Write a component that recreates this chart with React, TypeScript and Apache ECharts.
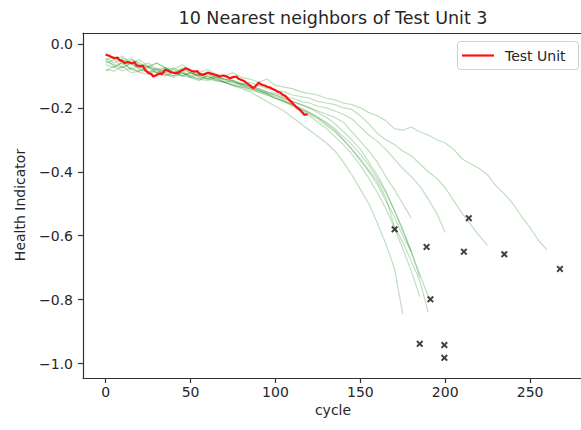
import React, { useEffect, useRef } from "react";
import * as echarts from "echarts";

const STEP = 5;

const testUnitCycles = [0, 2, 3, 5, 7, 8, 10, 11, 13, 15, 17, 18, 20, 22, 23, 25, 27, 28, 30, 32, 33, 35, 37, 38, 41, 43, 44, 46, 47, 49, 50, 52, 54, 55, 57, 59, 60, 62, 64, 65, 67, 69, 70, 72, 73, 75, 77, 78, 80, 82, 83, 85, 87, 89, 90, 92, 94, 95, 97, 98, 100, 101, 103, 104, 106, 107, 109, 110, 112, 114, 115, 117, 119];
const testUnitHI = [-0.034, -0.037, -0.04, -0.045, -0.043, -0.05, -0.054, -0.06, -0.057, -0.06, -0.058, -0.066, -0.071, -0.069, -0.081, -0.09, -0.095, -0.102, -0.097, -0.092, -0.095, -0.081, -0.085, -0.088, -0.092, -0.089, -0.085, -0.08, -0.076, -0.08, -0.083, -0.087, -0.085, -0.093, -0.097, -0.093, -0.09, -0.093, -0.096, -0.097, -0.102, -0.099, -0.1, -0.104, -0.108, -0.104, -0.102, -0.108, -0.113, -0.118, -0.123, -0.13, -0.139, -0.128, -0.121, -0.128, -0.131, -0.134, -0.137, -0.14, -0.145, -0.149, -0.153, -0.158, -0.164, -0.17, -0.18, -0.185, -0.196, -0.205, -0.21, -0.222, -0.22];

const neighborA = [-0.03, -0.045, -0.04, -0.06, -0.05, -0.07, -0.06, -0.075, -0.08, -0.065, -0.085, -0.09, -0.08, -0.095, -0.1, -0.09, -0.105, -0.11, -0.12, -0.11, -0.13, -0.135, -0.14, -0.15, -0.155, -0.16, -0.17, -0.175, -0.185, -0.19, -0.2, -0.215, -0.225, -0.24, -0.265, -0.27, -0.26, -0.275, -0.285, -0.3, -0.31, -0.33, -0.36, -0.375, -0.39, -0.41, -0.445, -0.47, -0.5, -0.54, -0.575, -0.615, -0.645];
const neighborB = [-0.06, -0.05, -0.075, -0.06, -0.08, -0.07, -0.085, -0.09, -0.08, -0.1, -0.09, -0.1, -0.11, -0.1, -0.11, -0.115, -0.125, -0.12, -0.13, -0.14, -0.145, -0.15, -0.16, -0.165, -0.17, -0.18, -0.185, -0.19, -0.2, -0.205, -0.225, -0.25, -0.28, -0.3, -0.315, -0.335, -0.35, -0.375, -0.4, -0.42, -0.45, -0.49, -0.53, -0.565, -0.6, -0.63];
const neighborC = [-0.05, -0.07, -0.06, -0.08, -0.065, -0.085, -0.09, -0.075, -0.09, -0.1, -0.09, -0.105, -0.11, -0.1, -0.115, -0.12, -0.125, -0.135, -0.14, -0.15, -0.155, -0.165, -0.17, -0.18, -0.185, -0.195, -0.2, -0.21, -0.22, -0.235, -0.26, -0.285, -0.305, -0.33, -0.36, -0.39, -0.415, -0.445, -0.485, -0.53, -0.59];
const neighborD = [-0.08, -0.085, -0.07, -0.09, -0.085, -0.075, -0.09, -0.1, -0.09, -0.1, -0.105, -0.095, -0.11, -0.115, -0.12, -0.125, -0.13, -0.14, -0.145, -0.155, -0.16, -0.17, -0.18, -0.19, -0.2, -0.21, -0.22, -0.23, -0.245, -0.275, -0.305, -0.335, -0.37, -0.415, -0.455, -0.5, -0.545];
const neighborE = [-0.035, -0.045, -0.055, -0.045, -0.065, -0.07, -0.08, -0.085, -0.075, -0.09, -0.1, -0.09, -0.105, -0.11, -0.12, -0.13, -0.14, -0.15, -0.165, -0.18, -0.195, -0.21, -0.23, -0.25, -0.27, -0.29, -0.31, -0.335, -0.37, -0.41, -0.455, -0.5, -0.56, -0.625, -0.7, -0.845];
const neighborF = [-0.055, -0.065, -0.075, -0.06, -0.08, -0.09, -0.075, -0.09, -0.1, -0.085, -0.1, -0.11, -0.1, -0.11, -0.12, -0.115, -0.13, -0.135, -0.145, -0.155, -0.165, -0.175, -0.19, -0.2, -0.215, -0.23, -0.25, -0.27, -0.3, -0.33, -0.36, -0.395, -0.43, -0.48, -0.57, -0.62, -0.68, -0.74, -0.84];
const neighborG = [-0.065, -0.075, -0.055, -0.08, -0.085, -0.07, -0.09, -0.095, -0.1, -0.09, -0.105, -0.11, -0.115, -0.105, -0.12, -0.13, -0.135, -0.14, -0.15, -0.16, -0.17, -0.18, -0.19, -0.205, -0.22, -0.235, -0.255, -0.275, -0.3, -0.33, -0.365, -0.4, -0.44, -0.49, -0.54, -0.6, -0.65, -0.72, -0.79];
const neighborH = [-0.045, -0.06, -0.045, -0.065, -0.07, -0.06, -0.08, -0.075, -0.09, -0.08, -0.09, -0.1, -0.095, -0.105, -0.11, -0.115, -0.125, -0.13, -0.14, -0.15, -0.16, -0.17, -0.18, -0.19, -0.2, -0.215, -0.23, -0.25, -0.275, -0.3, -0.33, -0.37, -0.41, -0.46, -0.52, -0.58, -0.65, -0.73];
const neighborI = [-0.085, -0.07, -0.085, -0.075, -0.09, -0.095, -0.08, -0.095, -0.105, -0.09, -0.105, -0.115, -0.1, -0.115, -0.12, -0.13, -0.135, -0.145, -0.15, -0.16, -0.17, -0.18, -0.19, -0.205, -0.215, -0.23, -0.245, -0.265, -0.29, -0.315, -0.345, -0.38, -0.42, -0.465, -0.52, -0.585, -0.65];
const neighborJ = [-0.05, -0.04, -0.065, -0.05, -0.06, -0.075, -0.06, -0.075, -0.09, -0.075, -0.09, -0.1, -0.09, -0.105, -0.11, -0.12, -0.125, -0.135, -0.145, -0.155, -0.17, -0.18, -0.195, -0.21, -0.225, -0.245, -0.265, -0.29, -0.315, -0.345, -0.38, -0.42, -0.465, -0.515, -0.575, -0.64, -0.71, -0.79];

const neighbors = [neighborA, neighborB, neighborC, neighborD, neighborE, neighborF, neighborG, neighborH, neighborI, neighborJ];

const failureCycles = [170.2, 189, 213.9, 211, 234.8, 267.6, 191.3, 185, 199.5, 199.5];
const failureHI = [-0.58, -0.635, -0.545, -0.65, -0.658, -0.704, -0.799, -0.938, -0.942, -0.982];

const xTicks = [0, 50, 100, 150, 200, 250];
const yTicks = [0, -0.2, -0.4, -0.6, -0.8, -1.0];

const TITLE = "10 Nearest neighbors of Test Unit 3";
const X_NAME = "cycle";
const Y_NAME = "Health Indicator";
const LEGEND_NAME = "Test Unit";

const FONT = "DejaVu Sans";
const TEXT = "#262626";
const AXIS = "#333";
const TICK_FS = 14;
const LABEL_FS = 14;
const TITLE_FS = 17.5;

const fmtY = (v: number) => {
  const s = Math.abs(v).toFixed(1);
  return v < -1e-9 ? "\u2212" + s : s;
};

export default function App() {
  const ref = useRef<HTMLDivElement>(null);
  useEffect(() => {
    if (!ref.current) return;
    const chart = echarts.init(ref.current, undefined, { renderer: "svg" });
    const xMin = -13.4;
    const xMax = 280;
    const greenSeries = neighbors.map((ys, k) => ({
      type: "line",
      name: "neighbor" + k,
      data: ys.map((y, i) => [i * STEP, y]),
      showSymbol: false,
      symbol: "none",
      lineStyle: { color: "rgba(0,128,0,0.25)", width: 1.2 },
      z: 2,
      silent: true,
    }));
    chart.setOption({
      animation: false,
      grid: { left: 83, right: 0, top: 33, bottom: 52, containLabel: false },
      xAxis: [
        {
          type: "value",
          min: xMin,
          max: xMax,
          splitLine: { show: false },
          axisLine: { show: true, onZero: false, lineStyle: { color: AXIS, width: 1.2 } },
          axisTick: { show: true, length: 5, lineStyle: { color: AXIS, width: 1.2 }, customValues: xTicks },
          axisLabel: {
            customValues: xTicks,
            margin: 7,
            color: TEXT,
            fontFamily: FONT,
            fontSize: TICK_FS,
            formatter: (v: number) => String(v),
          },
        },
        {
          type: "value",
          position: "top",
          min: xMin,
          max: xMax,
          splitLine: { show: false },
          axisLine: { show: true, onZero: false, lineStyle: { color: AXIS, width: 1.2 } },
          axisTick: { show: false },
          axisLabel: { show: false },
        },
      ],
      yAxis: {
        type: "value",
        min: -1.045,
        max: 0.034,
        splitLine: { show: false },
        axisLine: { show: true, onZero: false, lineStyle: { color: AXIS, width: 1.2 } },
        axisTick: { show: true, length: 5, lineStyle: { color: AXIS, width: 1.2 }, customValues: yTicks },
        axisLabel: {
          customValues: yTicks,
          margin: 10,
          color: TEXT,
          fontFamily: FONT,
          fontSize: TICK_FS,
          formatter: fmtY,
        },
      },
      series: [
        ...greenSeries,
        {
          type: "line",
          name: LEGEND_NAME,
          data: testUnitCycles.map((x, i) => [x, testUnitHI[i]]),
          showSymbol: false,
          symbol: "none",
          lineStyle: { color: "#ff1010", width: 2.2 },
          z: 4,
        },
        {
          type: "scatter",
          name: "failure",
          data: failureCycles.map((x, i) => [x, failureHI[i]]),
          symbol: "path://M0,2 L2,0 L5,3 L8,0 L10,2 L7,5 L10,8 L8,10 L5,7 L2,10 L0,8 L3,5 Z",
          symbolSize: 7,
          itemStyle: { color: "#111" },
          z: 5,
        },
      ],
      graphic: [
        {
          type: "text",
          style: {
            text: TITLE,
            x: 333,
            y: 18,
            align: "center",
            verticalAlign: "middle",
            fontFamily: FONT,
            fontSize: TITLE_FS,
            fill: TEXT,
          },
        },
        {
          type: "text",
          style: {
            text: X_NAME,
            x: 333,
            y: 410,
            align: "center",
            verticalAlign: "middle",
            fontFamily: FONT,
            fontSize: LABEL_FS,
            fill: TEXT,
          },
        },
        {
          type: "text",
          x: 20,
          y: 205,
          rotation: Math.PI / 2,
          style: {
            text: Y_NAME,
            x: 0,
            y: 0,
            align: "center",
            verticalAlign: "middle",
            fontFamily: FONT,
            fontSize: LABEL_FS,
            fill: TEXT,
          },
        },
        {
          type: "group",
          z: 10,
          children: [
            {
              type: "rect",
              shape: { x: 457.5, y: 41.5, width: 121, height: 28, r: 3 },
              style: { fill: "rgba(255,255,255,0.85)", stroke: "#d0d0d0", lineWidth: 1 },
            },
            {
              type: "line",
              shape: { x1: 462, y1: 55.5, x2: 494, y2: 55.5 },
              style: { stroke: "#ff1010", lineWidth: 2.2 },
            },
            {
              type: "text",
              style: {
                text: LEGEND_NAME,
                x: 505,
                y: 55.5,
                align: "left",
                verticalAlign: "middle",
                fontFamily: FONT,
                fontSize: LABEL_FS,
                fill: TEXT,
              },
            },
          ],
        },
      ],
    });
    return () => chart.dispose();
  }, []);
  return (
    <div
      ref={ref}
      style={{ position: "fixed", left: 0, top: 0, width: 581, height: 430, background: "#fff" }}
    />
  );
}
